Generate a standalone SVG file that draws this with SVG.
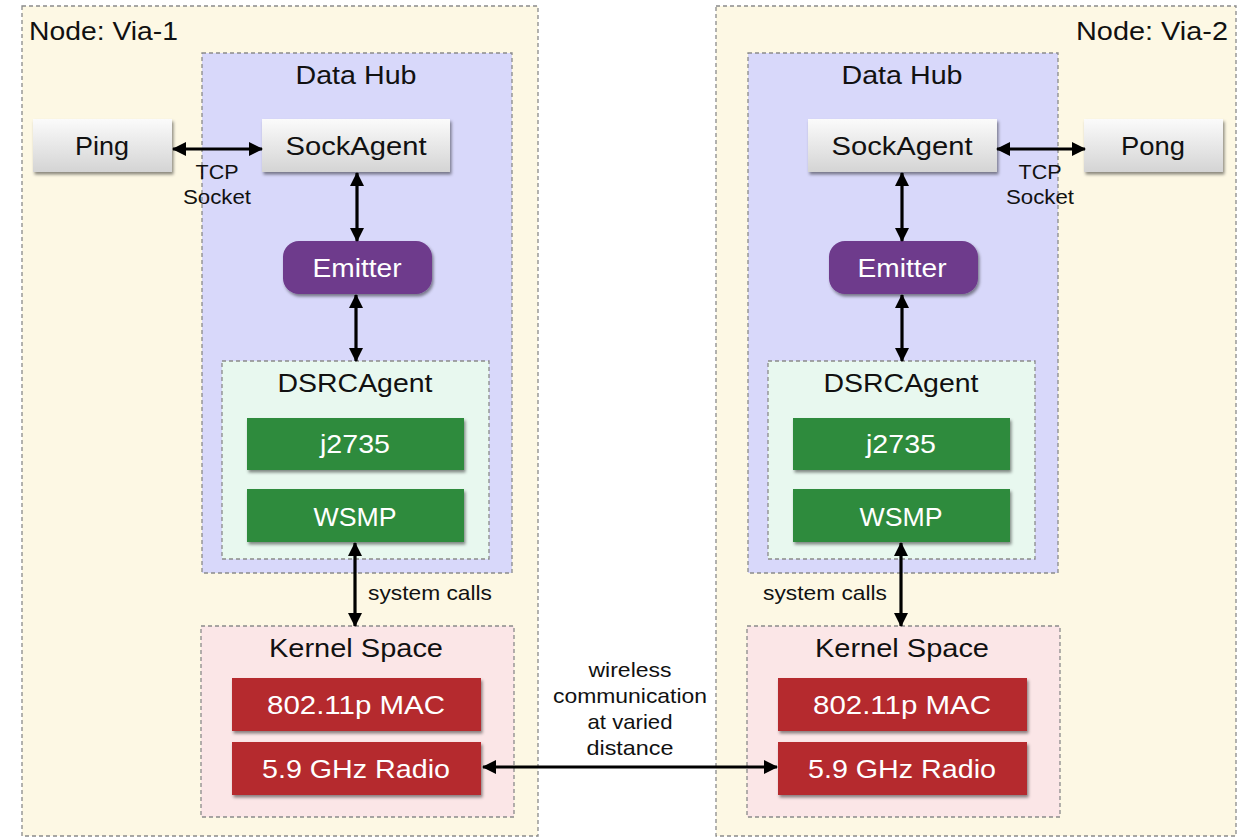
<svg xmlns="http://www.w3.org/2000/svg" width="1246" height="839" viewBox="0 0 1246 839">
<defs>
<linearGradient id="gray" x1="0" y1="0" x2="0" y2="1">
<stop offset="0" stop-color="#fbfbfb"/>
<stop offset="1" stop-color="#d4d4d4"/>
</linearGradient>
<filter id="sh" x="-10%" y="-10%" width="125%" height="135%">
<feDropShadow dx="1.5" dy="2.5" stdDeviation="1.5" flood-color="#000" flood-opacity="0.45"/>
</filter>
<marker id="ah" viewBox="0 0 14 14" refX="13" refY="7" markerWidth="14" markerHeight="14" markerUnits="userSpaceOnUse" orient="auto-start-reverse">
<path d="M0,0 L14,7 L0,14 z" fill="#000"/>
</marker>
</defs>
<style>
text{font-family:"Liberation Sans",Arial,sans-serif;fill:#111}
.outer{fill:#fdf8e4;stroke:#8a8a8a;stroke-width:1.3;stroke-dasharray:4 3}
.hub{fill:#d8d8fa;stroke:#8a8a8a;stroke-width:1.3;stroke-dasharray:4 3}
.dsrc{fill:#e8f8ef;stroke:#8a8a8a;stroke-width:1.3;stroke-dasharray:4 3}
.kern{fill:#fbe6e7;stroke:#8a8a8a;stroke-width:1.3;stroke-dasharray:4 3}
.gbox{fill:url(#gray);filter:url(#sh)}
.emit{fill:#6e3a8c;filter:url(#sh)}
.green{fill:#2e8b3d;filter:url(#sh)}
.red{fill:#b5292e;filter:url(#sh)}
.t1{font-size:26px}
.t2{font-size:26px;text-anchor:middle}
.w{font-size:25px;text-anchor:middle;fill:#fff}
.sm{font-size:21px}
.smc{font-size:21px;text-anchor:middle}
.conn{stroke:#000;stroke-width:3.2;fill:none;marker-start:url(#ah);marker-end:url(#ah)}
</style>
<rect x="0" y="0" width="1246" height="839" fill="#fff"/>

<g id="node-via1">
<rect class="outer" x="22" y="6" width="516" height="830"/>
<text class="t1" x="29" y="40" textLength="149" lengthAdjust="spacingAndGlyphs">Node: Via-1</text>
</g>
<g id="datahub-1">
<rect class="hub" x="202" y="53" width="310" height="520"/>
<text class="t2" x="356" y="84" textLength="121" lengthAdjust="spacingAndGlyphs">Data Hub</text>
</g>
<g id="ping">
<rect class="gbox" x="33" y="119" width="139" height="53"/>
<text class="t2" x="102" y="155" textLength="54" lengthAdjust="spacingAndGlyphs">Ping</text>
</g>
<g id="sockagent-1">
<rect class="gbox" x="262" y="119" width="188" height="53"/>
<text class="t2" x="356" y="155" textLength="141" lengthAdjust="spacingAndGlyphs">SockAgent</text>
</g>
<g id="emitter-1">
<rect class="emit" x="283" y="241" width="149" height="53" rx="16"/>
<text class="w" x="357" y="277" textLength="89" lengthAdjust="spacingAndGlyphs">Emitter</text>
</g>
<g id="dsrc-1">
<rect class="dsrc" x="222" y="361" width="267" height="198"/>
<text class="t2" x="355" y="392" textLength="155" lengthAdjust="spacingAndGlyphs">DSRCAgent</text>
</g>
<g id="j2735-1">
<rect class="green" x="247" y="418" width="217" height="52"/>
<text class="w" x="355" y="453" textLength="70" lengthAdjust="spacingAndGlyphs">j2735</text>
</g>
<g id="wsmp-1">
<rect class="green" x="247" y="489" width="217" height="53"/>
<text class="w" x="355" y="526" textLength="83" lengthAdjust="spacingAndGlyphs">WSMP</text>
</g>
<g id="kernel-1">
<rect class="kern" x="201" y="626" width="313" height="191"/>
<text class="t2" x="356" y="657" textLength="174" lengthAdjust="spacingAndGlyphs">Kernel Space</text>
</g>
<g id="mac-1">
<rect class="red" x="232" y="678" width="249" height="53"/>
<text class="w" x="356" y="714" textLength="178" lengthAdjust="spacingAndGlyphs">802.11p MAC</text>
</g>
<g id="radio-1">
<rect class="red" x="232" y="742" width="249" height="53"/>
<text class="w" x="356" y="778" textLength="188" lengthAdjust="spacingAndGlyphs">5.9 GHz Radio</text>
</g>

<g id="node-via2">
<rect class="outer" x="716" y="6" width="520" height="830"/>
<text class="t1" x="1228" y="40" text-anchor="end" textLength="152" lengthAdjust="spacingAndGlyphs">Node: Via-2</text>
</g>
<g id="datahub-2">
<rect class="hub" x="748" y="53" width="310" height="520"/>
<text class="t2" x="902" y="84" textLength="121" lengthAdjust="spacingAndGlyphs">Data Hub</text>
</g>
<g id="sockagent-2">
<rect class="gbox" x="808" y="119" width="189" height="53"/>
<text class="t2" x="902" y="155" textLength="141" lengthAdjust="spacingAndGlyphs">SockAgent</text>
</g>
<g id="pong">
<rect class="gbox" x="1084" y="119" width="139" height="53"/>
<text class="t2" x="1153" y="155" textLength="64" lengthAdjust="spacingAndGlyphs">Pong</text>
</g>
<g id="emitter-2">
<rect class="emit" x="829" y="241" width="149" height="53" rx="16"/>
<text class="w" x="902" y="277" textLength="89" lengthAdjust="spacingAndGlyphs">Emitter</text>
</g>
<g id="dsrc-2">
<rect class="dsrc" x="768" y="361" width="267" height="198"/>
<text class="t2" x="901" y="392" textLength="155" lengthAdjust="spacingAndGlyphs">DSRCAgent</text>
</g>
<g id="j2735-2">
<rect class="green" x="793" y="418" width="217" height="52"/>
<text class="w" x="901" y="453" textLength="70" lengthAdjust="spacingAndGlyphs">j2735</text>
</g>
<g id="wsmp-2">
<rect class="green" x="793" y="489" width="217" height="53"/>
<text class="w" x="901" y="526" textLength="83" lengthAdjust="spacingAndGlyphs">WSMP</text>
</g>
<g id="kernel-2">
<rect class="kern" x="747" y="626" width="313" height="191"/>
<text class="t2" x="902" y="657" textLength="174" lengthAdjust="spacingAndGlyphs">Kernel Space</text>
</g>
<g id="mac-2">
<rect class="red" x="778" y="678" width="249" height="53"/>
<text class="w" x="902" y="714" textLength="178" lengthAdjust="spacingAndGlyphs">802.11p MAC</text>
</g>
<g id="radio-2">
<rect class="red" x="778" y="742" width="249" height="53"/>
<text class="w" x="902" y="778" textLength="188" lengthAdjust="spacingAndGlyphs">5.9 GHz Radio</text>
</g>

<g id="connectors">
<line class="conn" x1="173" y1="149" x2="262" y2="149"/>
<line class="conn" x1="357" y1="173" x2="357" y2="241"/>
<line class="conn" x1="356" y1="295" x2="356" y2="361"/>
<line class="conn" x1="355" y1="543" x2="355" y2="626"/>
<line class="conn" x1="997" y1="149" x2="1085" y2="149"/>
<line class="conn" x1="902" y1="173" x2="902" y2="241"/>
<line class="conn" x1="902" y1="295" x2="902" y2="361"/>
<line class="conn" x1="901" y1="543" x2="901" y2="626"/>
<line class="conn" x1="483" y1="767" x2="777" y2="767"/>
<text class="smc" x="217" y="179" textLength="43" lengthAdjust="spacingAndGlyphs">TCP</text>
<text class="smc" x="217" y="204" textLength="68" lengthAdjust="spacingAndGlyphs">Socket</text>
<text class="smc" x="1040" y="179" textLength="43" lengthAdjust="spacingAndGlyphs">TCP</text>
<text class="smc" x="1040" y="204" textLength="68" lengthAdjust="spacingAndGlyphs">Socket</text>
<text class="sm" x="368" y="600" textLength="124" lengthAdjust="spacingAndGlyphs">system calls</text>
<text class="sm" x="763" y="600" textLength="124" lengthAdjust="spacingAndGlyphs">system calls</text>
<text class="smc" x="630" y="677" textLength="83" lengthAdjust="spacingAndGlyphs">wireless</text>
<text class="smc" x="630" y="703" textLength="154" lengthAdjust="spacingAndGlyphs">communication</text>
<text class="smc" x="630" y="729" textLength="85" lengthAdjust="spacingAndGlyphs">at varied</text>
<text class="smc" x="630" y="755" textLength="87" lengthAdjust="spacingAndGlyphs">distance</text>
</g>
</svg>
